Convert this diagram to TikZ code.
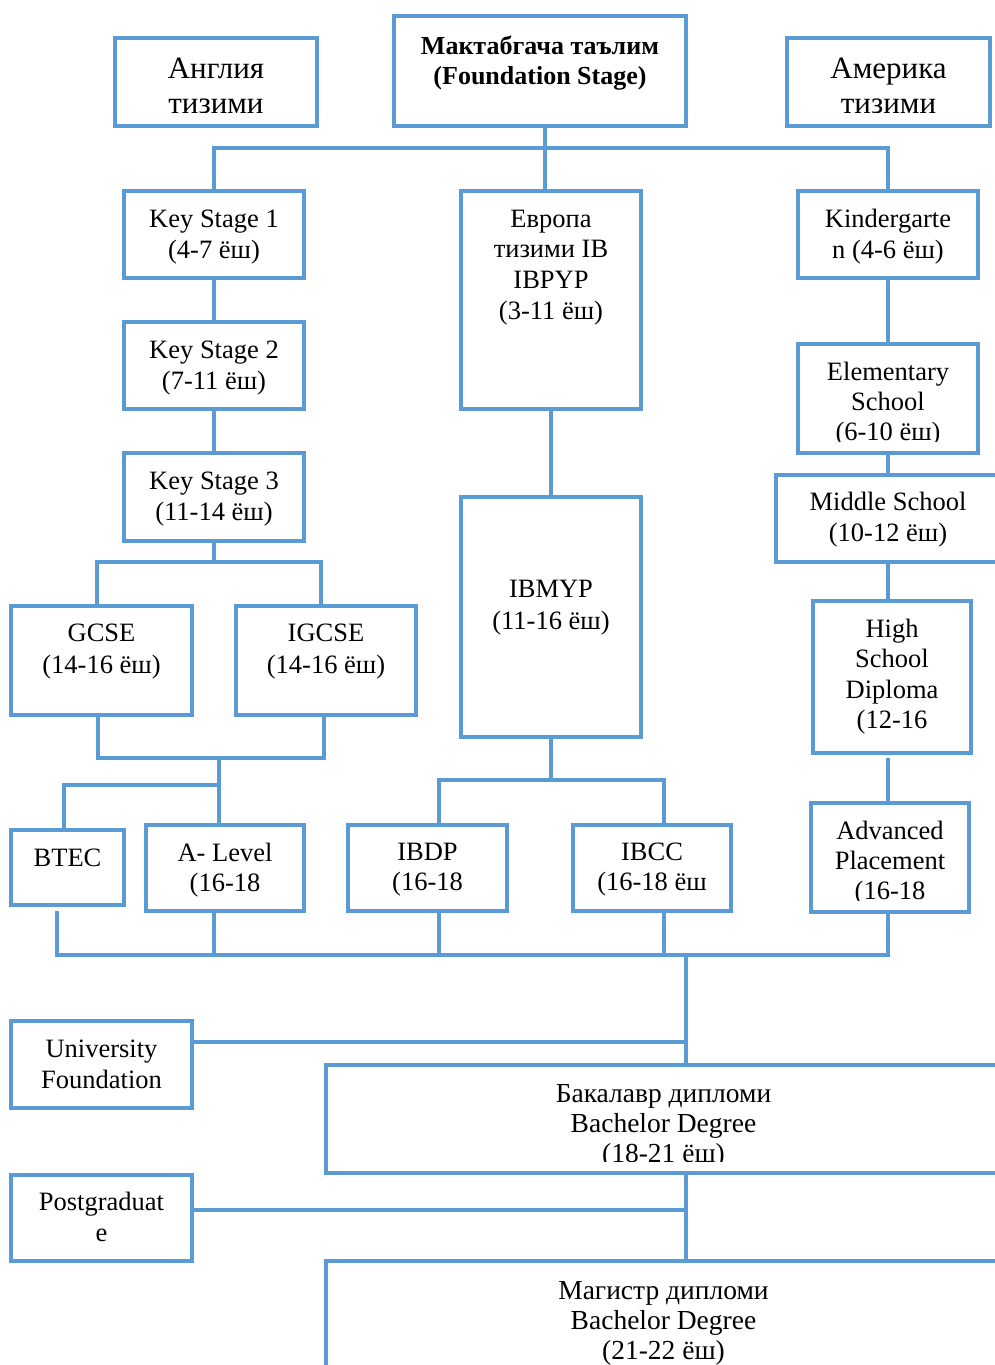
\documentclass[tikz,border=0pt]{standalone}
\usepackage{fontspec}
\setmainfont{Liberation Serif}
\definecolor{bl}{HTML}{5B9BD5}
\tikzset{
 box/.style={draw=bl, line width=4pt, inner sep=0pt, rectangle},
 ln/.style={draw=bl, line width=4pt, line cap=rect},
 txt/.style={inner sep=0pt, anchor=north, align=center, font=\fontsize{26.5}{31}\selectfont},
}
\newcommand\bx[5]{\node[box, minimum width={#4-#2}, minimum height={#5-#3}] (#1) at ({(#2+#4)/2},{(#3+#5)/2}) {};}
\begin{document}
\begin{tikzpicture}[x=1pt,y=-1pt]
\useasboundingbox (0,0) rectangle (995,1365);
\clip (0,0) rectangle (995,1365);
% boxes
\bx{ang}{115}{38}{317}{126}
\bx{mak}{394}{16}{686}{126}
\bx{ame}{787}{38}{990}{126}
\bx{ks1}{124}{191}{304}{278}
\bx{ks2}{124}{322}{304}{409}
\bx{ks3}{124}{453}{304}{541}
\bx{evr}{461}{191}{641}{409}
\bx{kin}{798}{191}{978}{278}
\bx{ele}{798}{344}{978}{453}
\bx{mid}{776}{475}{1001}{562}
\bx{hsd}{813}{601}{971}{753}
\bx{adv}{811}{803}{969}{912}
\bx{gcse}{11}{606}{192}{715}
\bx{igcse}{236}{606}{416}{715}
\bx{btec}{11}{830}{124}{905}
\bx{alev}{146}{825}{304}{911}
\bx{ibmyp}{461}{497}{641}{737}
\bx{ibdp}{348}{825}{507}{911}
\bx{ibcc}{573}{825}{731}{911}
\bx{uni}{11}{1021}{192}{1108}
\bx{bach}{326}{1065}{1001}{1173}
\bx{post}{11}{1175}{192}{1261}
\bx{mag}{326}{1261}{1001}{1420}
% texts
\begin{scope}
\clip (115,38) rectangle (317,112.5);
\node[txt, font=\fontsize{31}{35}\selectfont] (t-ang) at (216,54) {\strut Англия\\\strut тизими};
\end{scope}
\begin{scope}
\clip (787,38) rectangle (990,112.5);
\node[txt, font=\fontsize{31}{35}\selectfont] (t-ame) at (888.5,54) {\strut Америка\\\strut тизими};
\end{scope}
\node[txt, font=\fontsize{26}{30}\selectfont\bfseries] (t-mak) at (540,33) {\strut Мактабгача таълим\\\strut (Foundation Stage)};
\node[txt] (t-ks1) at (214,205.3) {\strut Key Stage 1\\\strut (4-7 ёш)};
\node[txt] (t-ks2) at (214,336.3) {\strut Key Stage 2\\\strut (7-11 ёш)};
\node[txt] (t-ks3) at (214,467.3) {\strut Key Stage 3\\\strut (11-14 ёш)};
\node[txt, font=\fontsize{26.5}{30.7}\selectfont] (t-evr) at (551,205.5) {\strut Европа\\\strut тизими IB\\\strut IBPYP\\\strut (3-11 ёш)};
\node[txt] (t-kin) at (888,205.3) {\strut Kindergarte\\\strut n (4-6 ёш)};
\begin{scope}
\clip (798,344) rectangle (978,441);
\node[txt, font=\fontsize{26.5}{30}\selectfont] (t-ele) at (888,359.5) {\strut Elementary\\\strut School\\\strut (6-10 ёш)};
\end{scope}
\node[txt] (t-mid) at (888,488.8) {\strut Middle School\\\strut (10-12 ёш)};
\node[txt, font=\fontsize{26.5}{30.5}\selectfont] (t-hsd) at (892,615.6) {\strut High\\\strut School\\\strut Diploma\\\strut (12-16};
\begin{scope}
\clip (811,803) rectangle (969,900);
\node[txt, font=\fontsize{26.5}{30}\selectfont] (t-adv) at (890,818.5) {\strut Advanced\\\strut Placement\\\strut (16-18};
\end{scope}
\node[txt, font=\fontsize{26.5}{32}\selectfont] (t-gcse) at (101.5,619) {\strut GCSE\\\strut (14-16 ёш)};
\node[txt, font=\fontsize{26.5}{32}\selectfont] (t-igcse) at (326,619) {\strut IGCSE\\\strut (14-16 ёш)};
\node[txt] (t-btec) at (67.5,844.3) {\strut BTEC};
\node[txt, font=\fontsize{26.5}{30}\selectfont] (t-alev) at (225,840) {\strut A- Level\\\strut (16-18};
\node[txt, font=\fontsize{26.5}{32}\selectfont] (t-ibmyp) at (551,575) {\strut IBMYP\\\strut (11-16 ёш)};
\node[txt, font=\fontsize{26.5}{30}\selectfont] (t-ibdp) at (427.5,839.5) {\strut IBDP\\\strut (16-18};
\node[txt, font=\fontsize{26.5}{30}\selectfont] (t-ibcc) at (652,839.5) {\strut IBCC\\\strut (16-18 ёш};
\node[txt] (t-uni) at (101.5,1035.3) {\strut University\\\strut Foundation};
\begin{scope}
\clip (326,1065) rectangle (1001,1161);
\node[txt, font=\fontsize{27.5}{30}\selectfont] (t-bach) at (663.5,1081) {\strut Бакалавр дипломи\\\strut Bachelor Degree\\\strut (18-21 ёш)};
\end{scope}
\node[txt] (t-post) at (101.5,1188.3) {\strut Postgraduat\\\strut e};
\node[txt, font=\fontsize{27.5}{30}\selectfont] (t-mag) at (663.5,1278) {\strut Магистр дипломи\\\strut Bachelor Degree\\\strut (21-22 ёш)};
% connectors
\coordinate (j0) at (545,148);
\draw[ln] (j0 |- mak.south) -- (j0 |- evr.north);
\draw[ln] (ks1.north) |- (j0) -| (kin.north);
\draw[ln] (ks1) -- (ks2);
\draw[ln] (ks2) -- (ks3);
\coordinate (j1) at (214,562);
\draw[ln] (ks3.south) -- (j1);
\coordinate (g1) at (97,0);
\coordinate (g2) at (321,0);
\draw[ln] (g1 |- gcse.north) |- (j1) -| (g2 |- igcse.north);
\coordinate (j2) at (219,758);
\coordinate (g3) at (98,0);
\coordinate (g4) at (324,0);
\draw[ln] (g3 |- gcse.south) |- (j2) -| (g4 |- igcse.south);
\draw[ln] (j2) -- (j2 |- alev.north);
\coordinate (j3) at (219,785);
\coordinate (g5) at (64,0);
\draw[ln] (j3) -| (g5 |- btec.north);
\draw[ln] (evr) -- (ibmyp);
\coordinate (j4) at (551,780);
\draw[ln] (ibmyp.south) -- (j4);
\coordinate (g6) at (439,0);
\coordinate (g7) at (664,0);
\draw[ln] (g6 |- ibdp.north) |- (j4) -| (g7 |- ibcc.north);
\coordinate (g8) at (888,0);
\draw[ln] (kin) -- (ele);
\draw[ln] (ele.south) -- (g8 |- mid.north);
\draw[ln] (g8 |- mid.south) -- (g8 |- hsd.north);
\coordinate (h1) at (888,760);
\draw[ln] (h1) -- (g8 |- adv.north);
\coordinate (b0) at (57,913);
\coordinate (bR) at (888,955);
\draw[ln] (b0) |- (bR);
\coordinate (g9) at (214,0);
\draw[ln] (g9 |- alev.south) -- (g9 |- bR);
\draw[ln] (g6 |- ibdp.south) -- (g6 |- bR);
\draw[ln] (g7 |- ibcc.south) -- (g7 |- bR);
\draw[ln] (g8 |- adv.south) -- (bR);
\coordinate (j5) at (686,955);
\draw[ln] (j5) -- (j5 |- bach.north);
\coordinate (u1) at (686,1042);
\draw[ln] (u1 -| uni.east) -- (u1);
\draw[ln] (j5 |- bach.south) -- (j5 |- mag.north);
\coordinate (p1) at (686,1210);
\draw[ln] (p1 -| post.east) -- (p1);
\end{tikzpicture}
\end{document}
